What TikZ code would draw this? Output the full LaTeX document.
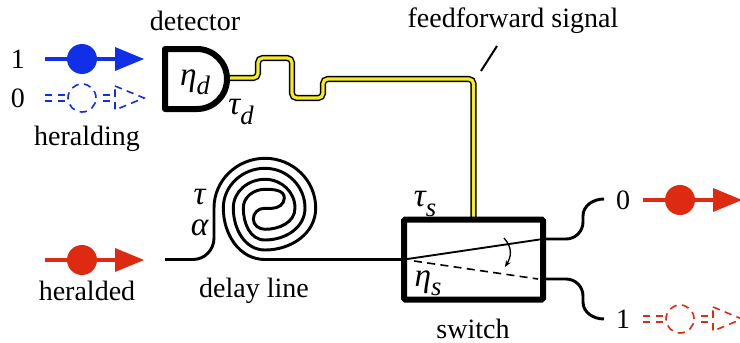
\documentclass[tikz,border=0pt]{standalone}
\usepackage{fontspec}
\setmainfont{Liberation Serif}
\usetikzlibrary{arrows.meta}
\definecolor{photonblue}{HTML}{1030E8}
\definecolor{photonred}{HTML}{DE2A10}
\definecolor{signalyellow}{HTML}{F4EC20}
\newcommand{\symsub}[2]{\textit{#1\raisebox{-0.28em}{\fontsize{20}{20}\selectfont #2}}}
\tikzset{
    label text/.style={inner sep=0pt, font=\fontsize{21}{24}\selectfont},
    symbol text/.style={inner sep=0pt, font=\fontsize{25}{28}\selectfont},
    fibre/.style={line width=2.2pt, black},
    signal/.style={line width=1.1pt, black, double=signalyellow, double distance=2.4pt, rounded corners=3.5pt},
    live line/.style={line width=2.6pt},
    dash line/.style={line width=1.2pt, dash pattern=on 5.5pt off 4pt},
}
\begin{document}
\begin{tikzpicture}[x=0.75pt, y=-0.75pt]
    \useasboundingbox (0,0) rectangle (740,343);

    \foreach \px/\py/\col in {82/59/photonblue, 82/260/photonred, 680/200/photonred}{
        \draw[live line, \col] (\px-37,\py) -- (\px+33,\py);
        \fill[\col] (\px,\py) circle (11.25pt);
        \fill[\col] (\px+33,\py-12) -- (\px+62,\py) -- (\px+33,\py+12) -- cycle;
    }
    \foreach \px/\py/\col in {82/98/photonblue, 680/319/photonred}{
        \draw[dash line, \col] (\px-37,\py-3) -- (\px-14,\py-3);
        \draw[dash line, \col] (\px-37,\py+3) -- (\px-14,\py+3);
        \draw[dash line, \col] (\px+21,\py-3) -- (\px+30,\py-3);
        \draw[dash line, \col] (\px+21,\py+3) -- (\px+30,\py+3);
        \draw[dash line, \col] (\px,\py) circle (10.5pt);
        \draw[dash line, \col] (\px+33,\py-12) -- (\px+62,\py) -- (\px+33,\py+12) -- cycle;
    }

    \node[label text] (blueone) at (18,59) {1};
    \node[label text] (bluezero) at (18,98) {0};
    \node[label text] (heralding) at (87,139) {heralding};
    \node[label text] (detectorlabel) at (195,21) {detector};
    \node[label text] (heralded) at (87,291) {heralded};
    \node[label text] (delaylabel) at (254,291) {delay line};
    \node[label text] (switchlabel) at (473,329) {switch};
    \node[label text] (feedlabel) at (513,21) {feedforward signal};
    \node[label text] (redzero) at (623,200) {0};
    \node[label text] (redone) at (623,319) {1};

    \node[symbol text] (etad) at (195,82) {\symsub{η}{d}};
    \node[symbol text] (taud) at (241,112) {\symsub{τ}{d}};
    \node[symbol text] (taudelay) at (200,197) {\textit{τ}};
    \node[symbol text] (alphadelay) at (200,228) {\textit{α}};
    \node[symbol text] (taus) at (425,204) {\symsub{τ}{s}};
    \node[symbol text] (etas) at (428,283) {\symsub{η}{s}};

    \coordinate (detout) at (227,78);
    \coordinate (feedtip) at (481,71);
    \coordinate (feedtop) at (497,46);
    \coordinate (wirein) at (165,259.5);
    \coordinate (portzero) at (604,199);
    \coordinate (portone) at (604,319);

    \draw[signal] (detout) -- (258,78) -- (258,58) -- (292,58) -- (292,98)
        -- (323,98) -- (323,79) -- (473.5,79) -- (473.5,220);

    \draw[line width=4.5pt, line join=round] (197,49) to[out=0, in=90] (227,79)
        to[out=-90, in=0] (197,109) -- (165,109) -- (165,49) -- cycle;

    \draw[line width=1.5pt] (feedtip) -- (feedtop);

    \node[draw, line width=4.5pt, rounded corners=1pt, outer sep=0pt, minimum width=104.25pt, minimum height=60pt]
        (switch) at (473.5,259.5) {};

    \draw[fibre] (wirein) -- (193,259.5) to[out=0, in=-90] (214,238) -- (214,208)
        to[out=90, in=180] (265,158.3) to[out=0, in=90] (315.7,208)
        to[out=-90, in=0] (265,250) to[out=180, in=-90] (233.3,208)
        to[out=90, in=180] (265,179.3) to[out=0, in=90] (295,208)
        to[out=-90, in=0] (265,229.3) to[out=180, in=-90] (253.3,219)
        to[out=90, in=180] (264,208.3) -- (272,208.3)
        to[out=0, in=-90] (284.3,198) to[out=90, in=0] (265,189.3)
        to[out=180, in=90] (243.3,208) to[out=-90, in=180] (265,240)
        to[out=0, in=-90] (305,208) to[out=90, in=0] (265,168.3)
        to[out=180, in=90] (223.3,208) to[out=-90, in=180] (265,259.5)
        -- (switch.west);

    \draw[line width=1.4pt] (switch.west) -- (switch.east |- 0,239);
    \draw[line width=1.2pt, dash pattern=on 6pt off 4pt] (414,261) -- (538,279);
    \draw[line width=1pt, -{Stealth[length=5pt, width=4pt]}] (504,238) .. controls (513,248) and (511,257) .. (505,267);

    \draw[fibre] (switch.east |- 0,239) -- (566,239) to[out=0, in=-90] (583,222) -- (583,216)
        to[out=90, in=180] (portzero);
    \draw[fibre] (switch.east |- 0,279) -- (566,279) to[out=0, in=90] (583,296) -- (583,302)
        to[out=-90, in=180] (portone);
\end{tikzpicture}
\end{document}
